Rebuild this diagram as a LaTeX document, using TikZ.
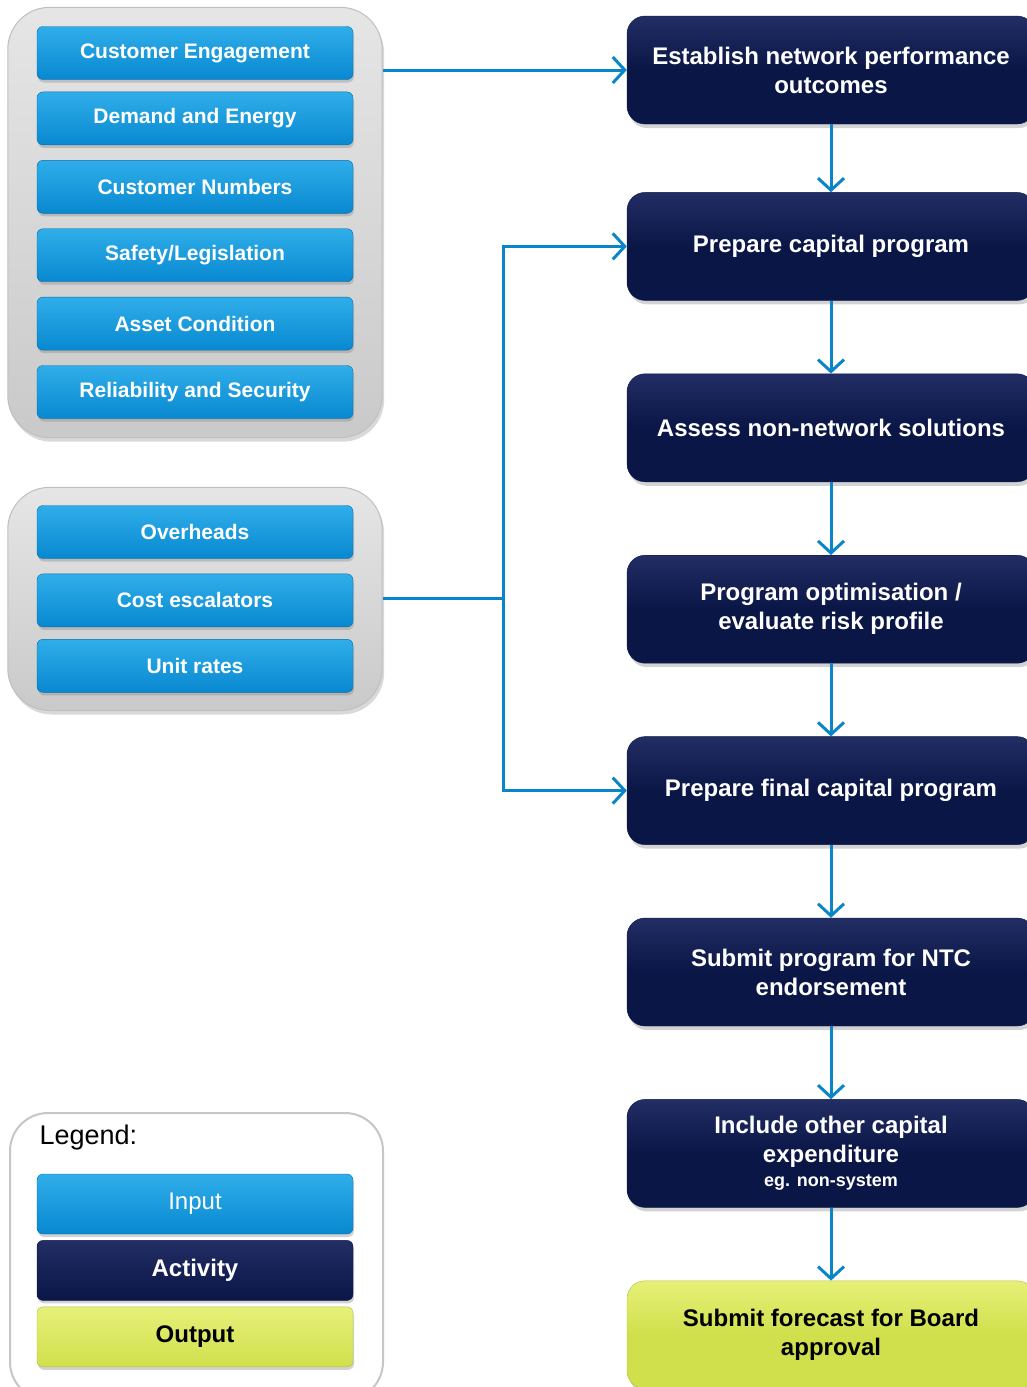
\documentclass[tikz,border=0pt]{standalone}
\usepackage{fontspec}
\setmainfont{Liberation Sans}
\usetikzlibrary{arrows.meta,positioning,fit,backgrounds,shadows}
\definecolor{inblue}{RGB}{8,136,208}
\definecolor{inbluetop}{RGB}{48,174,234}
\definecolor{actnavy}{RGB}{10,22,70}
\definecolor{actnavytop}{RGB}{34,46,100}
\definecolor{outlime}{RGB}{208,224,76}
\definecolor{outlimetop}{RGB}{230,240,120}
\definecolor{flowblue}{RGB}{10,134,200}

\begin{document}
\begin{tikzpicture}[
    x=1pt, y=-1pt,
    inbox/.style={rectangle, rounded corners=6pt, top color=inbluetop, bottom color=inblue, draw=inblue!80!black, minimum width=316pt, minimum height=53pt, align=center, text=white, font={\fontsize{21}{25}\selectfont\bfseries}, drop shadow={shadow xshift=1pt, shadow yshift=-3pt, opacity=0.35}},
    actbox/.style={rectangle, rounded corners=18pt, top color=actnavytop, bottom color=actnavy, middle color=actnavy, draw=actnavy, minimum width=408pt, minimum height=108pt, align=center, text=white, font={\fontsize{24}{29}\selectfont\bfseries}, drop shadow={shadow xshift=2pt, shadow yshift=-4pt, opacity=0.35}},
    outbox/.style={actbox, top color=outlimetop, bottom color=outlime, middle color=outlime, draw=outlime!85!black, text=black},
    group/.style={rectangle, rounded corners=42pt, top color=gray!20, bottom color=gray!42, draw=gray!50, line width=1pt, inner xsep=29pt, drop shadow={shadow xshift=2pt, shadow yshift=-4pt, opacity=0.3}},
    legendbox/.style={rectangle, rounded corners=38pt, fill=white, draw=gray!45, line width=2pt},
    flow/.style={draw=flowblue, line width=3pt, -{Straight Barb[length=12pt, width=26pt, line width=3pt]}}
]
    \useasboundingbox (0,0) rectangle (1027,1387);

    % Inputs (network drivers)
    \node[inbox] (ce) at (195,53) {Customer Engagement};
    \node[inbox, below=12pt of ce] (de) {Demand and Energy};
    \node[inbox, below=15pt of de] (cn) {Customer Numbers};
    \node[inbox, below=15pt of cn] (sl) {Safety/Legislation};
    \node[inbox, below=15pt of sl] (ac) {Asset Condition};
    \node[inbox, below=15pt of ac] (rs) {Reliability and Security};

    % Inputs (costs)
    \node[inbox] (oh) at (195,532) {Overheads};
    \node[inbox, below=15pt of oh] (esc) {Cost escalators};
    \node[inbox, below=12pt of esc] (ur) {Unit rates};

    \begin{scope}[on background layer]
        \node[group, inner ysep=19pt, fit=(ce) (rs)] (grpA) {};
        \node[group, inner ysep=18pt, fit=(oh) (ur)] (grpB) {};
        \draw[legendbox] (10,1113) rectangle (383,1400);
    \end{scope}

    % Activities
    \node[actbox] (est) at (831,70) {Establish network performance\\outcomes};
    \node[actbox, below=68pt of est] (prep) {Prepare capital program};
    \node[actbox, below=73pt of prep] (nns) {Assess non-network solutions};
    \node[actbox, below=73pt of nns] (opt) {Program optimisation /\\evaluate risk profile};
    \node[actbox, below=73pt of opt] (final) {Prepare final capital program};
    \node[actbox, below=73pt of final] (ntc) {Submit program for NTC\\endorsement};
    \node[actbox, below=73pt of ntc] (other) {Include other capital\\expenditure\\[-5pt]{\fontsize{18}{22}\selectfont eg. non-system}};
    \node[outbox, below=73pt of other] (board) {Submit forecast for Board\\approval};

    % Legend
    \node[anchor=west, font={\fontsize{27}{30}\selectfont}] (legend) at (36,1138) {Legend:};
    \node[inbox, minimum height=60pt, font={\fontsize{24}{28}\selectfont}] (lin) at (195,1204) {Input};
    \node[inbox, minimum height=60pt, top color=actnavytop, bottom color=actnavy, draw=actnavy, font={\fontsize{24}{28}\selectfont\bfseries}, below=6pt of lin] (lact) {Activity};
    \node[inbox, minimum height=60pt, top color=outlimetop, bottom color=outlime, draw=outlime!85!black, text=black, font={\fontsize{24}{28}\selectfont\bfseries}, below=6pt of lact] (lout) {Output};

    % Connectors
    \path (grpB.east) ++(121,0) coordinate (split);
    \draw[flow] (grpA.east |- est) -- (est);
    \draw[draw=flowblue, line width=3pt] (grpB.east) -- (split);
    \draw[flow] (split) |- (prep.west);
    \draw[flow] (split) |- (final.west);
    \draw[flow] (est) -- (prep);
    \draw[flow] (prep) -- (nns);
    \draw[flow] (nns) -- (opt);
    \draw[flow] (opt) -- (final);
    \draw[flow] (final) -- (ntc);
    \draw[flow] (ntc) -- (other);
    \draw[flow] (other) -- (board);
\end{tikzpicture}
\end{document}
